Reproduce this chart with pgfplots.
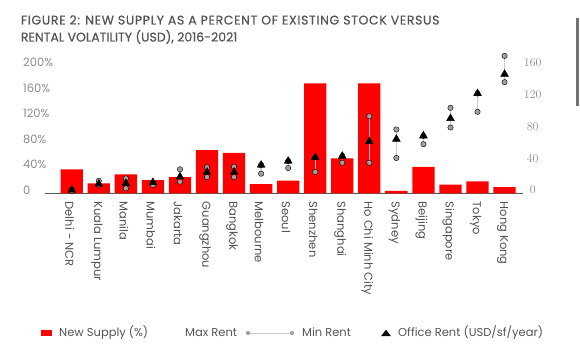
\documentclass[border=0pt]{standalone}
\usepackage{fontspec}
\setmainfont{Poppins}
\usepackage{pgfplots}
\usepackage{pgfplotstable}
\pgfplotsset{compat=1.18}
\definecolor{barred}{RGB}{255,0,0}
\definecolor{titlegrey}{RGB}{85,85,85}
\definecolor{tickgrey}{RGB}{140,140,140}
\definecolor{labgrey}{RGB}{80,80,80}
\definecolor{dotgrey}{RGB}{160,160,160}
\definecolor{linegrey}{RGB}{200,200,200}
\definecolor{axisgrey}{RGB}{90,90,90}

\pgfplotstableread{
x supply min max office
0 38 3 5 4.5
1 16 11 16 12
2 30 6.5 19 12.8
3 21 10.7 14 14
4 25.6 14.8 30.4 21
5 68 20.7 32.9 27
6 64 20.7 33.6 27
7 14.6 24.9 35.8 35.8
8 20.4 32 40.8 40.8
9 173 27 45.4 45.4
10 55 38.7 47 47
11 173 38.7 97 65.5
12 4.2 44.6 80.5 68.4
13 42 62 72.5 72.5
14 14 83 107.7 94.4
15 19 102.7 125.7 125.7
16 10 140 173 150
}\data

\begin{document}
\begin{tikzpicture}[x=1pt,y=1pt]
\useasboundingbox (0,0) rectangle (580,352);
% title
\node[anchor=base west, inner sep=0, text=titlegrey, font=\fontsize{12.5}{14}\selectfont\addfontfeature{LetterSpace=5,FakeBold=0.6}] at (20.7,327.5) {FIGURE 2: NEW SUPPLY AS A PERCENT OF EXISTING STOCK VERSUS};
\node[anchor=base west, inner sep=0, text=titlegrey, font=\fontsize{12.5}{14}\selectfont\addfontfeature{FakeBold=0.6}] at (20.7,310.5) {RENTAL VOLATILITY (USD), 2016-2021};
% screenshot edge
\draw[line width=2.5pt, draw=black!55] (577.5,334) -- (577.5,246);

\begin{axis}[
  at={(45pt,158.5pt)}, anchor=south west,
  scale only axis, width=477.7pt, height=140pt,
  xmin=-0.99, xmax=16.67, ymin=0, ymax=220,
  axis x line*=bottom, axis y line*=left,
  y axis line style={draw=none},
  x axis line style={draw=axisgrey, line width=1.4pt},
  major tick length=0,
  ytick={0,40,80,120,160,200},
  yticklabels={0,40\%,80\%,120\%,160\%,200\%},
  yticklabel style={anchor=west, inner sep=0, xshift=-22pt, yshift=3.5pt, text=tickgrey, font=\fontsize{11.5}{13}\selectfont},
  xtick={0,...,16},
  xticklabels={Delhi - NCR,Kuala Lumpur,Manila,Mumbai,Jakarta,Guangzhou,Bangkok,Melbourne,Seoul,Shenzhen,Shanghai,Ho Chi Minh City,Sydney,Beijing,Singapore,Tokyo,Hong Kong},
  xticklabel style={rotate=-90, anchor=west, inner sep=0, xshift=8pt, yshift=-2pt, text=labgrey, font=\fontsize{11.5}{13}\selectfont},
  clip=false,
]
\addplot[ybar, bar width=0.825, fill=barred, draw=none, bar shift=0pt] table[x=x, y=supply] {\data};
\end{axis}

\begin{axis}[
  at={(45pt,158.5pt)}, anchor=south west,
  scale only axis, width=477.7pt, height=140pt,
  xmin=-0.99, xmax=16.67, ymin=0, ymax=176,
  axis x line=none, axis y line*=right,
  y axis line style={draw=none},
  major tick length=0,
  ytick={0,40,80,120,160},
  yticklabel style={anchor=center, inner sep=0, xshift=10pt, yshift=3.5pt, text=tickgrey, font=\fontsize{11.5}{13}\selectfont},
  clip=false,
]
\addplot[only marks, mark=none, error bars/.cd, y dir=plus, y explicit, error mark=none,
  error bar style={draw=linegrey, line width=1.3pt}]
  table[x=x, y=min, y error expr=\thisrow{max}-\thisrow{min}] {\data};
\addplot[only marks, mark=*, mark size=2.7pt, mark options={fill=dotgrey, draw=none}] table[x=x, y=max] {\data};
\addplot[only marks, mark=*, mark size=2.7pt, mark options={fill=dotgrey, draw=none}] table[x=x, y=min] {\data};
\addplot[only marks, mark=triangle*, mark size=4.5pt, mark options={fill=black, draw=none}] table[x=x, y=office] {\data};
\end{axis}

% legend
\fill[barred] (40.7,16) rectangle (51.5,21.5);
\node[anchor=base west, inner sep=0, text=titlegrey, font=\fontsize{11.5}{13}\selectfont] at (59,15) {New Supply (\%)};
\node[anchor=base west, inner sep=0, text=titlegrey, font=\fontsize{11.5}{13}\selectfont] at (185,15) {Max Rent};
\draw[draw=linegrey, line width=0.9pt] (248,19) -- (292,19);
\fill[dotgrey] (248,19) circle (2.1);
\fill[dotgrey] (292,19) circle (2.1);
\node[anchor=base west, inner sep=0, text=titlegrey, font=\fontsize{11.5}{13}\selectfont] at (302,15) {Min Rent};
\fill[black] (381,15.8) -- (391,15.8) -- (386,22.3) -- cycle;
\node[anchor=base west, inner sep=0, text=titlegrey, font=\fontsize{11.5}{13}\selectfont] at (398,15) {Office Rent (USD/sf/year)};
\end{tikzpicture}
\end{document}
